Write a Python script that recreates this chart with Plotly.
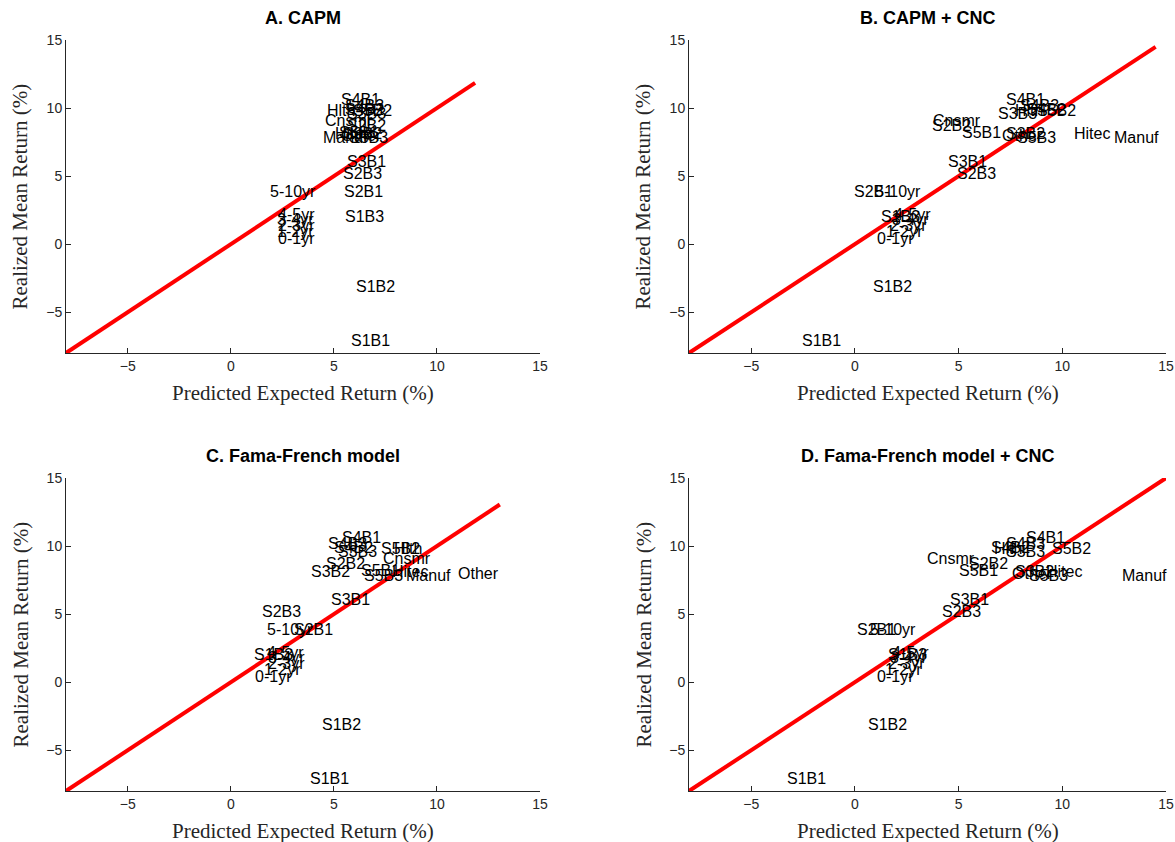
import plotly.graph_objects as go

labels = ["S1B1", "S1B2", "S1B3", "S2B1", "S2B2", "S2B3", "S3B1", "S3B2", "S3B3",
          "S4B1", "S4B2", "S4B3", "S5B1", "S5B2", "S5B3",
          "Cnsmr", "Manuf", "Hitec", "Hlth", "Other",
          "0-1yr", "1-2yr", "2-3yr", "3-4yr", "4-5yr", "5-10yr"]

realized = [-7.1, -3.1, 2.0, 3.9, 8.7, 5.2, 6.1, 8.1, 9.6,
            10.65, 9.9, 10.2, 8.2, 9.8, 7.8,
            9.05, 7.8, 8.1, 9.8, 8.0,
            0.45, 0.95, 1.4, 1.8, 2.15, 3.85]

pred_capm = [5.8, 6.0, 5.5, 5.45, 5.6, 5.4, 5.6, 5.4, 5.6,
             5.3, 5.5, 5.5, 5.2, 5.9, 5.7,
             4.5, 4.4, 5.0, 4.6, 5.3,
             2.25, 2.2, 2.25, 2.2, 2.25, 1.85]

pred_capm_cnc = [-2.6, 0.8, 1.2, -0.1, 3.65, 4.85, 4.45, 7.25, 6.85,
                 7.25, 8.25, 7.9, 5.1, 8.75, 7.75,
                 3.7, 12.45, 10.5, 7.65, 7.05,
                 1.0, 1.45, 1.65, 1.75, 1.85, 0.9]

pred_ff = [3.8, 4.35, 1.05, 3.02, 4.55, 1.45, 4.8, 3.85, 5.15,
           5.32, 4.95, 4.65, 6.25, 7.25, 6.4,
           7.35, 8.45, 7.75, 7.85, 10.95,
           1.12, 1.55, 1.75, 1.75, 1.7, 1.7]

pred_ff_cnc = [-3.3, 0.6, 1.55, 0.05, 5.45, 4.15, 4.55, 7.65, 7.25,
               8.2, 6.5, 7.25, 4.95, 9.45, 8.35,
               3.45, 12.85, 9.15, 6.65, 7.55,
               1.0, 1.4, 1.55, 1.65, 1.75, 0.68]

panel_titles = ["A. CAPM", "B. CAPM + CNC", "C. Fama-French model", "D. Fama-French model + CNC"]
line_start = -8
line_end = [11.85, 14.5, 13.05, 15.0]
tick_vals = [-5, 0, 5, 10, 15]
axis_range = [-8, 15]

W, H = 1175, 842
# pixel boxes: (left, right, top, bottom)
boxes = [(66, 540, 40, 353), (689, 1166, 40, 353),
         (66, 540, 478, 791), (689, 1166, 478, 791)]

preds = [pred_capm, pred_capm_cnc, pred_ff, pred_ff_cnc]

fig = go.Figure()
layout = dict(width=W, height=H, margin=dict(l=0, r=0, t=0, b=0, pad=0, autoexpand=False),
              paper_bgcolor="white", plot_bgcolor="white", showlegend=False)
annotations = []
axis_col = "#262626"
for i in range(4):
    l, r, t, b = boxes[i]
    xa = "xaxis" if i == 0 else f"xaxis{i+1}"
    ya = "yaxis" if i == 0 else f"yaxis{i+1}"
    xr = "x" if i == 0 else f"x{i+1}"
    yr = "y" if i == 0 else f"y{i+1}"
    common = dict(range=axis_range, tickvals=tick_vals, showline=True, linecolor=axis_col,
                  linewidth=1, ticks="inside", ticklen=5, tickcolor=axis_col, showgrid=False,
                  zeroline=False, mirror=False, automargin=False,
                  tickfont=dict(family="Liberation Sans, Arial", size=14, color=axis_col))
    layout[xa] = dict(domain=[l / W, r / W], anchor=yr, **common)
    layout[ya] = dict(domain=[1 - b / H, 1 - t / H], anchor=xr, **common)

    fig.add_trace(go.Scatter(x=[line_start, line_end[i]], y=[line_start, line_end[i]],
                             mode="lines", line=dict(color="red", width=4),
                             xaxis=xr, yaxis=yr, hoverinfo="skip"))

    for lab, px_, ry in zip(labels, preds[i], realized):
        annotations.append(dict(x=px_, y=ry, xref=xr, yref=yr, text=lab, showarrow=False,
                                xanchor="left", yanchor="middle", borderpad=0,
                                font=dict(family="Liberation Sans, Arial", size=16, color="black")))

    cx = (l + r) / 2 / W
    annotations.append(dict(x=cx, y=1 - (t - 22) / H, xref="paper", yref="paper",
                            text="<b>" + panel_titles[i] + "</b>", showarrow=False,
                            xanchor="center", yanchor="middle",
                            font=dict(family="Liberation Sans, Arial", size=18, color="black")))
    annotations.append(dict(x=cx, y=1 - (b + 40) / H, xref="paper", yref="paper",
                            text="Predicted Expected Return (%)", showarrow=False,
                            xanchor="center", yanchor="middle",
                            font=dict(family="Liberation Serif, serif", size=21, color=axis_col)))
    annotations.append(dict(x=(l - 46) / W, y=1 - (t + b) / 2 / H, xref="paper", yref="paper",
                            text="Realized Mean Return (%)", showarrow=False, textangle=-90,
                            xanchor="center", yanchor="middle",
                            font=dict(family="Liberation Serif, serif", size=21, color=axis_col)))

layout["annotations"] = annotations
fig.update_layout(**layout)
fig.write_html("out.html", config={"displayModeBar": False},
               post_script="document.body.style.margin='0';document.body.style.padding='0';"
                           "document.documentElement.style.margin='0';")
